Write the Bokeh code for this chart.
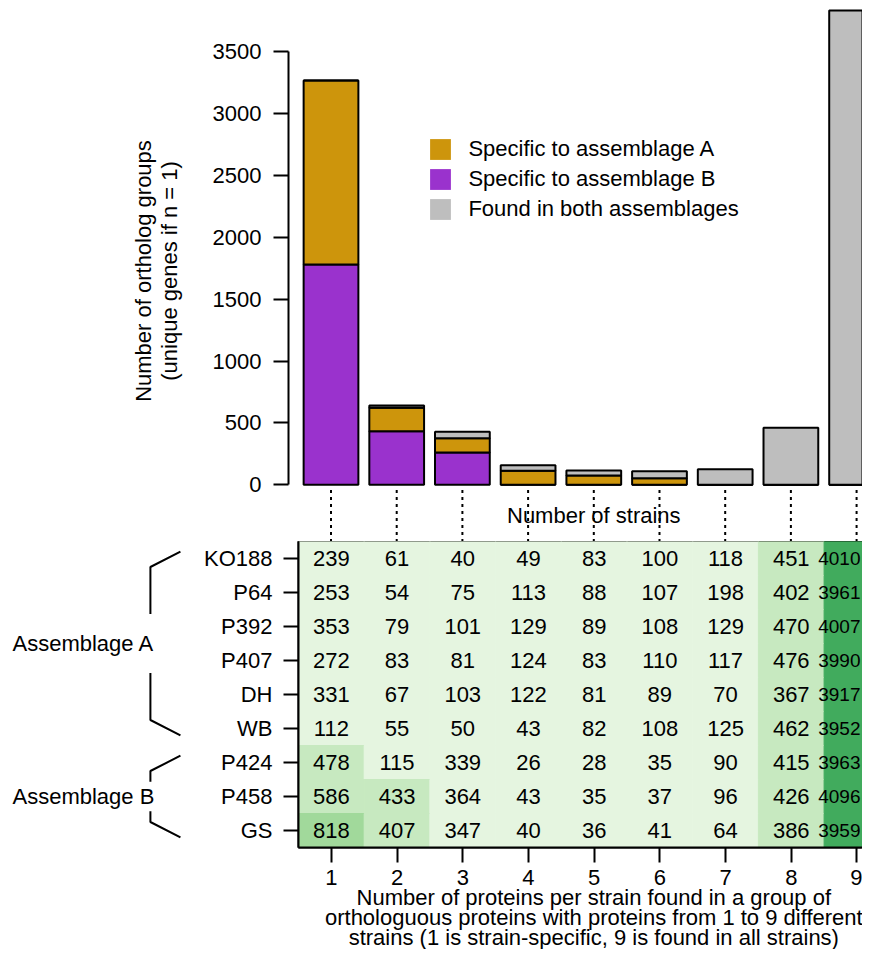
import numpy as np
from bokeh.plotting import figure
from bokeh.models import (ColumnDataSource, Range1d, FixedTicker,
                          Label, Legend, LegendItem)
from bokeh.layouts import column, row
from bokeh.embed import file_html
from bokeh.resources import INLINE
from bokeh.core.properties import value

# ---------------- data ----------------
n_strains = [1, 2, 3, 4, 5, 6, 7, 8, 9]
specific_B = [1781, 433, 261, 0, 0, 0, 0, 0, 0]
specific_A = [1487, 189, 116, 113, 75, 53, 0, 0, 0]
found_both = [0, 19, 51, 45, 41, 57, 126, 461, 3834]
legend_labels = ["Specific to assemblage A", "Specific to assemblage B",
                 "Found in both assemblages"]

strains = ["KO188", "P64", "P392", "P407", "DH", "WB", "P424", "P458", "GS"]
counts_KO188 = [239, 61, 40, 49, 83, 100, 118, 451, 4010]
counts_P64 = [253, 54, 75, 113, 88, 107, 198, 402, 3961]
counts_P392 = [353, 79, 101, 129, 89, 108, 129, 470, 4007]
counts_P407 = [272, 83, 81, 124, 83, 110, 117, 476, 3990]
counts_DH = [331, 67, 103, 122, 81, 89, 70, 367, 3917]
counts_WB = [112, 55, 50, 43, 82, 108, 125, 462, 3952]
counts_P424 = [478, 115, 339, 26, 28, 35, 90, 415, 3963]
counts_P458 = [586, 433, 364, 43, 35, 37, 96, 426, 4096]
counts_GS = [818, 407, 347, 40, 36, 41, 64, 386, 3959]
heat_counts = [counts_KO188, counts_P64, counts_P392, counts_P407, counts_DH,
               counts_WB, counts_P424, counts_P458, counts_GS]

groups = ["Assemblage A", "Assemblage B"]
group_sizes = [6, 3]

x_title_lines = ["Number of proteins per strain found in a group of",
                 "orthologuous proteins with proteins from 1 to 9 different",
                 "strains (1 is strain-specific, 9 is found in all strains)"]
y_title = "Number of ortholog groups\n(unique genes if n = 1)"

# ---------------- style ----------------
FONT = "Liberation Sans"
FS = "22px"
FS_EDGE = "19px"
GOLD = "#CD950C"
PURPLE = "#9A32CD"
GREY = "#BEBEBE"
heat_breaks = [366, 700, 2000]
heat_palette = ["#e5f5e0", "#c7e9c0", "#a1d99b", "#41ab5d"]
PX_PER_COL = 65.7


def style_axis(ax, standoff):
    ax.major_tick_out = 15
    ax.major_tick_in = 0
    ax.minor_tick_out = 0
    ax.minor_tick_in = 0
    ax.axis_line_width = 2
    ax.axis_line_color = "black"
    ax.major_tick_line_width = 2
    ax.major_tick_line_color = "black"
    ax.major_label_text_font = FONT
    ax.major_label_text_font_size = FS
    ax.major_label_text_color = "black"
    ax.major_label_standoff = standoff
    ax.axis_label_text_font = FONT
    ax.axis_label_text_font_size = FS
    ax.axis_label_text_font_style = "normal"
    ax.axis_label_text_color = "black"


# ---------------- top bar chart ----------------
top = figure(width=862, height=541, x_range=Range1d(0.353, 9.09),
             y_range=Range1d(-458.4, 3915), output_backend="svg",
             toolbar_location=None, x_axis_location=None,
             min_border_left=288, min_border_right=0, min_border_top=0,
             min_border_bottom=0)
top.outline_line_color = None
top.grid.visible = False

bsrc = ColumnDataSource(dict(x=n_strains, B=specific_B, A=specific_A, both=found_both))
top.vbar_stack(["B", "A", "both"], x="x", width=1 / 1.2, source=bsrc,
               fill_color=[PURPLE, GOLD, GREY], line_color="black", line_width=2)

# connectors from bars to heatmap columns
top.segment(x0=n_strains, y0=[-42] * 9, x1=n_strains, y1=[-458.4] * 9,
            line_color="black", line_width=2, line_dash="3 4")

top.add_layout(Label(x=5, y=-248, text="Number of strains", text_align="center",
                     text_baseline="middle", text_font=FONT, text_font_size=FS,
                     text_color="black"))

items = []
for lab, col in zip(legend_labels, [GOLD, PURPLE, GREY]):
    r = top.vbar(x=[np.nan], top=[np.nan], width=0.5, fill_color=col, line_color=None)
    items.append(LegendItem(label=lab, renderers=[r]))
legend = Legend(items=items, location=(139.4, 318.6), padding=0, margin=0,
                spacing=4, glyph_width=26, glyph_height=26, label_height=26,
                label_standoff=15, border_line_color=None,
                background_fill_alpha=0, label_text_font=FONT,
                label_text_font_size=FS, label_text_color="black")
top.add_layout(legend)

ya = top.yaxis[0]
style_axis(ya, 12)
ya.ticker = FixedTicker(ticks=[0, 500, 1000, 1500, 2000, 2500, 3000, 3500])
ya.bounds = (0, 3500)
ya.axis_label = y_title
ya.axis_label_standoff = 28
ya.axis_label_text_line_height = 1.02

# ---------------- heatmap ----------------
n_rows = len(strains)
row_pos = [n_rows - 0.5 - i for i in range(n_rows)]   # KO188 on top
HEAT_BOTTOM = 50
heat_x_end = 0.5 + 564 / PX_PER_COL

heat = figure(width=672, height=306 + HEAT_BOTTOM, x_range=Range1d(0.5, heat_x_end),
              y_range=Range1d(0, n_rows), output_backend="svg",
              toolbar_location=None, min_border_left=108, min_border_right=0,
              min_border_top=0, min_border_bottom=HEAT_BOTTOM)
heat.grid.visible = False
heat.outline_line_color = "black"
heat.outline_line_width = 2

hx, hy, hv, hc = [], [], [], []
for yp, rowvals in zip(row_pos, heat_counts):
    for n, v in zip(n_strains, rowvals):
        hx.append(n)
        hy.append(yp)
        hv.append(str(v))
        hc.append(heat_palette[int(np.searchsorted(heat_breaks, v, side="right"))])
hsrc = ColumnDataSource(dict(x=hx, y=hy, v=hv, c=hc))
heat.rect(x="x", y="y", width=1, height=1, source=hsrc, fill_color="c",
          line_color="c", line_width=1)

# numbers: columns fully inside the view are centred; the last (partly visible)
# column is right-aligned at the visible edge so its numbers stay readable
inner = [i for i, x in enumerate(hx) if x + 0.4 < heat_x_end]
edge = [i for i, x in enumerate(hx) if x + 0.4 >= heat_x_end]
src_in = ColumnDataSource(dict(x=[hx[i] for i in inner], y=[hy[i] for i in inner],
                               v=[hv[i] for i in inner]))
src_edge = ColumnDataSource(dict(x=[heat_x_end - 2 / PX_PER_COL] * len(edge),
                                 y=[hy[i] for i in edge], v=[hv[i] for i in edge]))
heat.text(x="x", y="y", text="v", source=src_in, text_align="center",
          text_baseline="middle", text_font=value(FONT), text_font_size=value(FS),
          text_color="black")
heat.text(x="x", y="y", text="v", source=src_edge, text_align="right",
          text_baseline="middle", text_font=value(FONT), text_font_size=value(FS_EDGE),
          text_color="black")

hxa = heat.xaxis[0]
style_axis(hxa, 7)
hxa.ticker = FixedTicker(ticks=n_strains)

hya = heat.yaxis[0]
style_axis(hya, 11)
hya.ticker = FixedTicker(ticks=row_pos)
hya.major_label_overrides = {yp: s for yp, s in zip(row_pos, strains)}

# ---------------- group brackets ----------------
brk = figure(width=190, height=306 + HEAT_BOTTOM, x_range=Range1d(0, 1),
             y_range=heat.y_range, output_backend="svg", toolbar_location=None,
             x_axis_location=None, y_axis_location=None,
             min_border_left=0, min_border_right=0, min_border_top=0,
             min_border_bottom=HEAT_BOTTOM)
brk.outline_line_color = None
brk.grid.visible = False

x_tip, x_v = 0.947, 0.789
xs, ys, mids = [], [], []
top_edge = float(n_rows)
for size in group_sizes:
    t, b = top_edge, top_edge - size
    mid = (t + b) / 2
    gap = 0.145 * size
    xs += [[x_tip, x_v, x_v], [x_v, x_v, x_tip]]
    ys += [[t - 0.3, t - 0.75, mid + gap], [mid - gap, b + 0.75, b + 0.3]]
    mids.append(mid)
    top_edge = b
brk.multi_line(xs, ys, line_color="black", line_width=2)
brk.text(x=[0.063] * len(groups), y=mids, text=groups, text_align="left",
         text_baseline="middle", text_font=value(FONT), text_font_size=value(FS),
         text_color="black")

# ---------------- x title (below heatmap, overlapping its empty margin) ----------------
OVERLAP = 17
TITLE_H = 949 - (541 + 306 + HEAT_BOTTOM - OVERLAP)
ttl = figure(width=862, height=TITLE_H, x_range=top.x_range,
             y_range=Range1d(TITLE_H, 0), output_backend="svg",
             toolbar_location=None, x_axis_location=None, y_axis_location=None,
             min_border_left=288, min_border_right=0, min_border_top=0,
             min_border_bottom=0, margin=(-OVERLAP, 0, 0, 0))
ttl.outline_line_color = None
ttl.grid.visible = False
ttl.background_fill_alpha = 0
ttl.border_fill_alpha = 0
ttl.text(x=[5, 5, 5], y=[16.5, 36.5, 56.5], text=x_title_lines, text_align="center",
         text_baseline="middle", text_font=value(FONT), text_font_size=value(FS),
         text_color="black")

layout = column(top, row(brk, heat), ttl)
open("out.html", "w").write(file_html(layout, INLINE))
